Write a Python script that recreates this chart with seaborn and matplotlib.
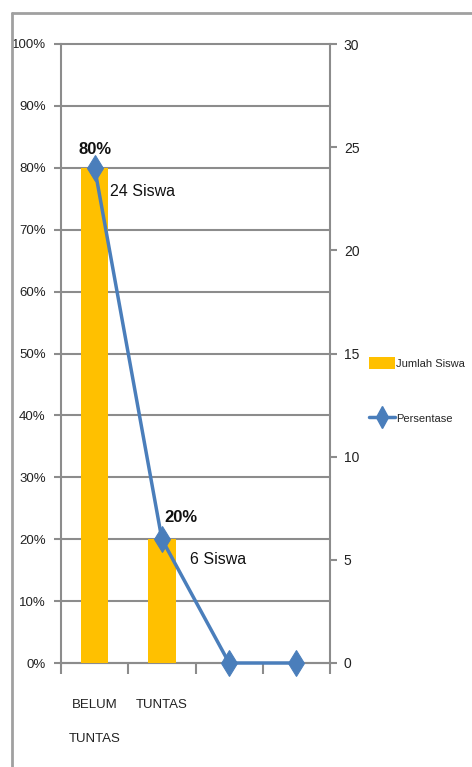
import matplotlib
matplotlib.use("Agg")
import matplotlib.pyplot as plt
from matplotlib.lines import Line2D
from matplotlib.patches import Patch
from matplotlib.ticker import FixedLocator
import seaborn as sns
import pandas as pd

categories = ["BELUM\nTUNTAS", "TUNTAS", " ", "  "]
jumlah_siswa = [24, 6, 0, 0]
persentase = [0.80, 0.20, 0.0, 0.0]
pct_labels = ["80%", "20%"]
siswa_labels = ["24 Siswa", "6 Siswa"]
left_ticks = [0, 0.1, 0.2, 0.3, 0.4, 0.5, 0.6, 0.7, 0.8, 0.9, 1.0]
right_ticks = [0, 5, 10, 15, 20, 25, 30]

sns.set_theme(style="white")
plt.rcParams['font.family'] = ['Liberation Sans', 'DejaVu Sans']

BAR = "#FFC000"
LINE = "#4A7EBB"
GRID = "#8C8C8C"
TXT = "#222222"

W, H = 472, 767
fig = plt.figure(figsize=(W / 100, H / 100), dpi=100)
rect = [61 / W, 1 - 663 / H, (330 - 61) / W, (663 - 44) / H]
ax = fig.add_axes(rect)
ax2 = ax.twinx()
ax3 = ax.twinx()

df = pd.DataFrame({"Kategori": categories, "Jumlah Siswa": jumlah_siswa, "Persentase": persentase})
xpos = list(range(len(categories)))

# bars on right axis
sns.barplot(data=df, x="Kategori", y="Jumlah Siswa", order=categories, color=BAR,
            width=0.41, linewidth=0, saturation=1, ax=ax2)
ax2.set_ylim(0, 30)
ax2.yaxis.set_major_locator(FixedLocator(right_ticks))
ax2.set_yticklabels([str(t) for t in right_ticks])

# line on hidden percent axis
sns.lineplot(x=xpos, y=persentase, color=LINE, linewidth=2.5, marker="d",
             markersize=13, markeredgecolor=LINE, clip_on=False, ax=ax3)
ax3.set_ylim(0, 1)
ax3.set_yticks([])
ax3.set_ylabel("")

# left axis: gridlines
ax.set_ylim(0, 1)
ax.yaxis.set_major_locator(FixedLocator(left_ticks))
ax.set_yticklabels([f"{int(round(t * 100))}%" for t in left_ticks])
ax.grid(axis="y", color=GRID, linewidth=1.5)
ax.grid(axis="x", visible=False)
for gl in ax.get_ygridlines():
    gl.set_clip_on(False)

for a in (ax, ax2, ax3):
    a.set_xlabel("")
    a.set_ylabel("")
    for s in a.spines.values():
        s.set_visible(False)

ax.spines["left"].set_visible(True)
ax.spines["left"].set_color(GRID)
ax.spines["left"].set_linewidth(1.5)
ax.spines["bottom"].set_visible(True)
ax.spines["bottom"].set_color(GRID)
ax.spines["bottom"].set_linewidth(1.5)
ax2.spines["right"].set_visible(True)
ax2.spines["right"].set_color(GRID)
ax2.spines["right"].set_linewidth(1.5)

ax.tick_params(axis="y", left=True, length=5, width=1.5, color=GRID, pad=6,
               labelsize=9.5, labelcolor=TXT)
ax2.tick_params(axis="y", right=True, length=5, width=1.5, color=GRID, pad=5,
                labelsize=10, labelcolor=TXT)

# x axis: labels at categories, ticks at boundaries
ax.set_xlim(-0.5, len(categories) - 0.5)
ax.set_xticks(xpos)
ax.set_xticklabels(categories, fontsize=9.5, linespacing=3.4, color=TXT, va="top")
ax.set_xticks([x - 0.5 for x in xpos] + [len(categories) - 0.5], minor=True)
ax.tick_params(axis="x", which="major", length=0, pad=26, bottom=True, labelbottom=True)
ax.tick_params(axis="x", which="minor", length=8, width=1.5, color=GRID, bottom=True)

ax.set_zorder(0)
ax2.set_zorder(1)
ax3.set_zorder(2)
ax2.patch.set_visible(False)
ax3.patch.set_visible(False)

# data labels
offsets_pct = [(0, 18), (19, 22)]
offsets_siswa = [(15, -24), (28, -20)]
for i in range(2):
    ax3.annotate(pct_labels[i], (xpos[i], persentase[i]), xytext=offsets_pct[i],
                 textcoords="offset pixels", ha="center", va="center",
                 fontsize=12, fontweight="bold", color="#111111")
    ax3.annotate(siswa_labels[i], (xpos[i], persentase[i]), xytext=offsets_siswa[i],
                 textcoords="offset pixels", ha="left", va="center",
                 fontsize=11.5, color="#111111")

# legend
handles = [Patch(facecolor=BAR, edgecolor="none"),
           Line2D([0], [0], color=LINE, linewidth=2.5, marker="d", markersize=11)]
fig.legend(handles, ["Jumlah Siswa", "Persentase"], loc="upper left",
           bbox_to_anchor=(369 / W, 1 - 357 / H), frameon=False, fontsize=8,
           handlelength=2.3, handleheight=1.3, handletextpad=0.15, labelspacing=3.9,
           borderpad=0, borderaxespad=0)

# outer frame
fig.add_artist(Line2D([12 / W, 12 / W], [0, 1 - 13 / H], transform=fig.transFigure,
                      color="#A0A0A0", linewidth=2))
fig.add_artist(Line2D([12 / W, 1], [1 - 13 / H, 1 - 13 / H], transform=fig.transFigure,
                      color="#A0A0A0", linewidth=2))

fig.savefig("out.png", dpi=100)
